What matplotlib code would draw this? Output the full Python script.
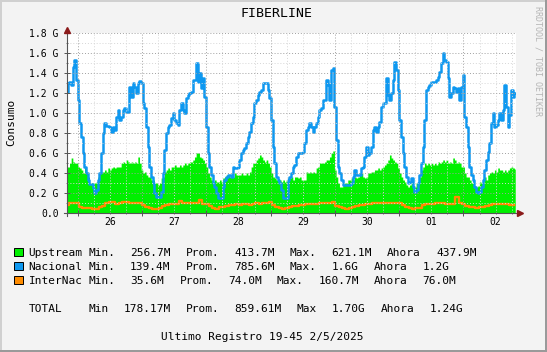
import numpy as np
import matplotlib
matplotlib.use('Agg')
import matplotlib.pyplot as plt
from matplotlib.patches import Rectangle
from matplotlib.lines import Line2D
from matplotlib.ticker import FuncFormatter

# ---------------- data (values in G) ----------------
# time origin: 26 00:00 ; hours
t_start_h = -4.0
step_h = 0.622          # sampling interval of the fine series (hours)

upstream = [
    0.46,0.46,0.50,0.55,0.51,0.50,0.50,0.46,0.45,0.43,
    0.40,0.46,0.40,0.36,0.30,0.30,0.30,0.30,0.31,0.36,
    0.40,0.41,0.41,0.43,0.41,0.45,0.43,0.45,0.46,0.45,
    0.46,0.46,0.46,0.50,0.51,0.50,0.53,0.51,0.50,0.51,
    0.50,0.51,0.50,0.56,0.50,0.43,0.40,0.41,0.38,0.36,
    0.36,0.33,0.33,0.30,0.30,0.28,0.30,0.35,0.36,0.41,
    0.43,0.45,0.43,0.46,0.46,0.48,0.46,0.46,0.48,0.46,
    0.48,0.50,0.48,0.50,0.51,0.51,0.53,0.56,0.60,0.60,
    0.56,0.55,0.53,0.50,0.46,0.40,0.36,0.33,0.31,0.33,
    0.31,0.31,0.33,0.31,0.35,0.36,0.38,0.38,0.36,0.38,
    0.36,0.40,0.38,0.38,0.38,0.40,0.38,0.38,0.40,0.38,
    0.41,0.46,0.50,0.50,0.53,0.55,0.58,0.56,0.53,0.51,
    0.53,0.50,0.46,0.40,0.36,0.35,0.33,0.33,0.33,0.31,
    0.33,0.31,0.33,0.35,
    0.35,0.36,0.33,0.36,0.36,0.35,0.36,0.33,0.33,0.33,
    0.41,0.40,0.41,0.40,0.41,0.40,0.45,0.46,0.50,0.50,
    0.50,0.51,0.53,0.53,0.56,0.60,0.62,0.43,0.36,0.30,
    0.26,0.26,0.28,0.30,0.30,0.33,0.33,0.35,0.33,0.36,
    0.35,0.36,0.40,0.40,0.36,0.35,0.36,0.40,0.40,0.41,
    0.41,0.43,0.43,0.45,0.43,0.45,0.46,0.48,0.50,0.53,
    0.58,0.55,0.53,0.51,0.50,0.45,0.40,0.36,0.33,0.31,
    0.28,0.26,0.28,0.35,0.27,0.26,0.30,0.31,0.36,0.43,
    0.46,0.50,0.48,0.50,0.48,0.50,0.48,0.50,0.48,0.51,
    0.50,0.51,0.53,0.51,0.53,0.50,0.51,0.50,0.55,0.53,
    0.50,0.51,0.50,0.46,0.46,0.40,0.36,0.36,0.33,0.30,
    0.31,0.27,0.26,0.27,0.31,0.30,0.31,0.36,0.33,0.38,
    0.40,0.41,0.40,0.43,0.41,0.45,0.43,0.43,0.41,0.43,
    0.41,0.43,0.45,0.46,0.45,0.44,
]

nacional = [
    1.21,1.30,1.31,1.28,1.46,1.53,1.33,1.13,0.90,0.76,
    0.60,0.46,0.40,0.33,0.29,0.29,0.25,0.20,0.23,0.33,
    0.40,0.60,0.80,0.90,0.87,0.87,0.86,0.81,0.86,0.83,
    0.96,1.03,0.93,0.96,1.03,1.05,1.01,1.01,1.26,1.16,
    1.30,1.26,1.20,1.30,1.32,1.30,1.10,1.05,0.86,0.66,
    0.46,0.36,0.30,0.20,0.16,0.16,0.16,0.21,0.40,0.63,
    0.80,0.86,0.88,0.95,1.00,0.93,0.90,0.88,1.03,1.10,
    1.03,1.00,1.15,1.18,1.20,1.21,1.33,1.33,1.50,1.31,
    1.40,1.25,1.35,1.16,0.86,0.60,0.46,0.38,0.30,0.26,
    0.20,0.15,0.15,0.15,0.26,0.33,0.36,0.38,0.38,0.36,
    0.46,0.45,0.45,0.46,0.53,0.60,0.63,0.65,0.70,0.76,
    0.81,0.90,0.96,1.10,1.13,1.18,1.21,1.23,1.30,1.30,
    1.30,1.23,1.15,0.93,0.66,0.50,0.36,0.33,0.30,0.23,
    0.15,0.15,0.15,0.33,
    0.36,0.40,0.46,0.48,0.56,0.60,0.60,0.60,0.61,0.70,
    0.83,0.86,0.90,0.86,0.81,0.86,0.90,0.96,1.03,1.05,
    1.13,1.13,1.33,1.28,1.13,1.43,1.45,1.06,0.73,0.46,
    0.40,0.33,0.28,0.28,0.28,0.28,0.28,0.30,0.36,0.43,
    0.38,0.38,0.38,0.45,0.46,0.56,0.66,0.58,0.60,0.66,
    0.83,0.86,0.81,0.86,0.91,1.06,1.10,1.10,1.35,1.18,
    1.13,1.20,1.33,1.51,1.43,1.23,0.93,0.76,0.60,0.46,
    0.36,0.30,0.31,0.35,0.26,0.21,0.23,0.30,0.38,0.50,
    0.66,0.93,1.23,1.26,1.28,1.31,1.31,1.31,1.33,1.36,
    1.41,1.50,1.60,1.53,1.51,1.35,1.16,1.20,1.26,1.25,
    1.21,1.25,1.13,1.26,1.38,0.96,0.86,0.66,0.46,0.38,
    0.33,0.26,0.21,0.20,0.21,0.26,0.33,0.43,0.53,0.61,
    0.70,0.90,1.00,0.86,0.88,0.93,1.00,0.93,1.03,1.28,
    1.06,0.86,0.98,1.23,1.16,1.20,
]

internac = [
    0.08,0.10,0.10,0.10,0.06,0.05,0.05,0.05,0.04,0.04,
    0.06,0.07,0.10,0.11,0.11,0.09,0.10,0.11,0.11,0.10,
    0.10,0.10,0.10,0.08,0.06,0.05,0.04,0.04,0.05,0.07,
    0.08,0.09,0.09,0.09,0.12,0.10,0.10,0.10,0.10,0.10,
    0.13,0.09,0.09,0.07,0.05,0.04,0.06,0.06,0.07,0.08,
    0.08,0.09,0.08,0.09,0.09,0.08,0.09,0.10,0.09,0.10,
    0.10,0.11,0.08,0.06,0.05,0.04,0.05,
    0.06,0.07,0.07,0.08,0.08,0.09,0.09,0.09,0.09,0.10,
    0.10,0.10,0.10,0.11,0.07,0.06,0.05,0.04,0.05,0.06,
    0.07,0.08,0.08,0.09,0.09,0.10,0.10,0.10,0.10,0.10,
    0.10,0.10,0.10,0.10,0.08,0.06,0.05,0.04,0.05,0.05,
    0.08,0.09,0.09,0.09,0.10,0.10,0.10,0.09,0.09,0.09,
    0.16,0.10,0.09,0.07,0.06,0.06,0.05,0.06,0.06,0.07,
    0.08,0.09,0.09,0.09,0.09,0.09,0.08,0.08,
]

day_labels = ['26', '27', '28', '29', '30', '01', '02']
y_major = [0.0, 0.2, 0.4, 0.6, 0.8, 1.0, 1.2, 1.4, 1.6, 1.8]
y_labels = ['0.0', '0.2 G', '0.4 G', '0.6 G', '0.8 G', '1.0 G',
            '1.2 G', '1.4 G', '1.6 G', '1.8 G']

series_names = ['Upstream', 'Nacional', 'InterNac']
series_colors = ['#00f000', '#0e98f0', '#ff8c00']
stat_min = ['256.7M', '139.4M', '35.6M']
stat_avg = ['413.7M', '785.6M', '74.0M']
stat_max = ['621.1M', '1.6G', '160.7M']
stat_now = ['437.9M', '1.2G', '76.0M']
total_stats = ['178.17M', '859.61M', '1.70G', '1.24G']
title = 'FIBERLINE'
footer = 'Ultimo Registro 19-45 2/5/2025'

# ---------------- figure ----------------
W, H = 547, 352
MONO = 'DejaVu Sans Mono'
plt.rcParams['font.family'] = [MONO]

fig = plt.figure(figsize=(W / 100, H / 100), dpi=100, facecolor='#f3f3f3')


def fx(x):
    return x / W


def fy(y):
    return 1 - y / H


ax = fig.add_axes([fx(67), fy(213), 449 / W, 180 / H])
ax.set_facecolor('white')

t_fine = t_start_h + np.arange(len(nacional)) * step_h
t_coarse = t_start_h + np.arange(len(internac)) * step_h * 2

ax.fill_between(t_fine, 0, upstream, step='mid', color=series_colors[0],
                linewidth=0, zorder=1)
ax.plot(t_fine, nacional, drawstyle='steps-mid', color=series_colors[1],
        lw=1.8, zorder=2)
ax.plot(t_coarse, internac, drawstyle='steps-mid', color=series_colors[2],
        lw=1.7, zorder=2.1)

ax.set_xlim(-4.0, 163.6)
ax.set_ylim(0, 1.8)

# grid
ax.set_yticks(y_major)
ax.set_yticklabels(y_labels)
ax.set_yticks(np.arange(0.1, 1.8, 0.2), minor=True)
ax.set_xticks(np.arange(0, 164, 24))
ax.set_xticklabels([''] * len(np.arange(0, 164, 24)))
minor_x = [h for h in range(0, 164, 6) if h % 24 != 0]
ax.set_xticks(minor_x, minor=True)


def day_fmt(x, pos):
    h = int(round(x))
    if h % 24 == 12:
        return day_labels[h // 24]
    return ''


ax.xaxis.set_minor_formatter(FuncFormatter(day_fmt))

ax.set_axisbelow(False)
ax.grid(which='minor', color='#d6d6d6', linestyle=(0, (1, 2)), linewidth=0.7)
ax.grid(which='major', color='#a0a0a0', linestyle=(0, (1, 2)), linewidth=0.7)

ax.tick_params(axis='y', which='major', direction='inout', length=4,
               width=0.7, color='#555555', pad=4, labelsize=7)
ax.tick_params(axis='y', which='minor', direction='inout', length=2,
               width=0.7, color='#777777')
ax.tick_params(axis='x', which='major', direction='inout', length=4,
               width=0.7, color='#555555', pad=2, labelsize=7)
ax.tick_params(axis='x', which='minor', direction='inout', length=2,
               width=0.7, color='#777777', pad=2, labelsize=7)

for s in ax.spines.values():
    s.set_visible(False)

# axes lines with arrows
axis_col = '#555555'
fig.add_artist(Line2D([fx(67), fx(67)], [fy(216), fy(29)], color=axis_col,
                      lw=0.8, transform=fig.transFigure))
fig.add_artist(Line2D([fx(64), fx(519)], [fy(213), fy(213)], color=axis_col,
                      lw=0.8, transform=fig.transFigure))
fig.add_artist(Line2D([fx(67)], [fy(30)], marker='^', ms=4.5, color='#8b1a1a',
                      transform=fig.transFigure))
fig.add_artist(Line2D([fx(520)], [fy(213)], marker='>', ms=4.5, color='#8b1a1a',
                      transform=fig.transFigure))

# border
fig.add_artist(Rectangle((0, fy(2)), 1, 2 / H, transform=fig.transFigure,
                         color='#d0d0d0', lw=0))
fig.add_artist(Rectangle((0, 0), 2 / W, 1, transform=fig.transFigure,
                         color='#d0d0d0', lw=0))
fig.add_artist(Rectangle((0, 0), 1, 2 / H, transform=fig.transFigure,
                         color='#9a9a9a', lw=0))
fig.add_artist(Rectangle((fx(W - 2), 0), 2 / W, 1, transform=fig.transFigure,
                         color='#9a9a9a', lw=0))

# texts
fig.text(fx(277), fy(17), title, fontsize=9.5, ha='center', va='baseline')
fig.text(fx(11.5), fy(122), 'Consumo', fontsize=8, rotation=90,
         ha='center', va='center')
fig.text(fx(538), fy(61), 'RRDTOOL / TOBI OETIKER', fontsize=6,
         rotation=270, color='#b5b5b5', ha='center', va='center')

# legend rows
row_base = [256, 270, 284]
row_x = [
    [28.5, 88.5, 130, 186, 234.5, 290, 331.5, 387, 436],
    [28.5, 88.5, 130, 186, 234.5, 290, 331.5, 373.5, 422.5],
    [28.5, 88.5, 130, 179.5, 228, 276.5, 318.5, 373.5, 422.5],
]
for i in range(3):
    tokens = [series_names[i], 'Min.', stat_min[i], 'Prom.', stat_avg[i],
              'Max.', stat_max[i], 'Ahora', stat_now[i]]
    for x, tok in zip(row_x[i], tokens):
        fig.text(fx(x), fy(row_base[i]), tok, fontsize=8, ha='left',
                 va='baseline')
    fig.add_artist(Rectangle((fx(14.5), fy(row_base[i] - 0.5)), 8 / W, 8 / H,
                             transform=fig.transFigure,
                             facecolor=series_colors[i], edgecolor='black',
                             lw=0.7))

tot_x = [28.5, 88.5, 123.5, 186, 234.5, 296.5, 331.5, 380.5, 429.5]
tot_tokens = ['TOTAL', 'Min', total_stats[0], 'Prom.', total_stats[1],
              'Max', total_stats[2], 'Ahora', total_stats[3]]
for x, tok in zip(tot_x, tot_tokens):
    fig.text(fx(x), fy(312), tok, fontsize=8, ha='left', va='baseline')

fig.text(fx(161), fy(340), footer, fontsize=8, ha='left', va='baseline')

fig.savefig('out.png', dpi=100, facecolor=fig.get_facecolor())
